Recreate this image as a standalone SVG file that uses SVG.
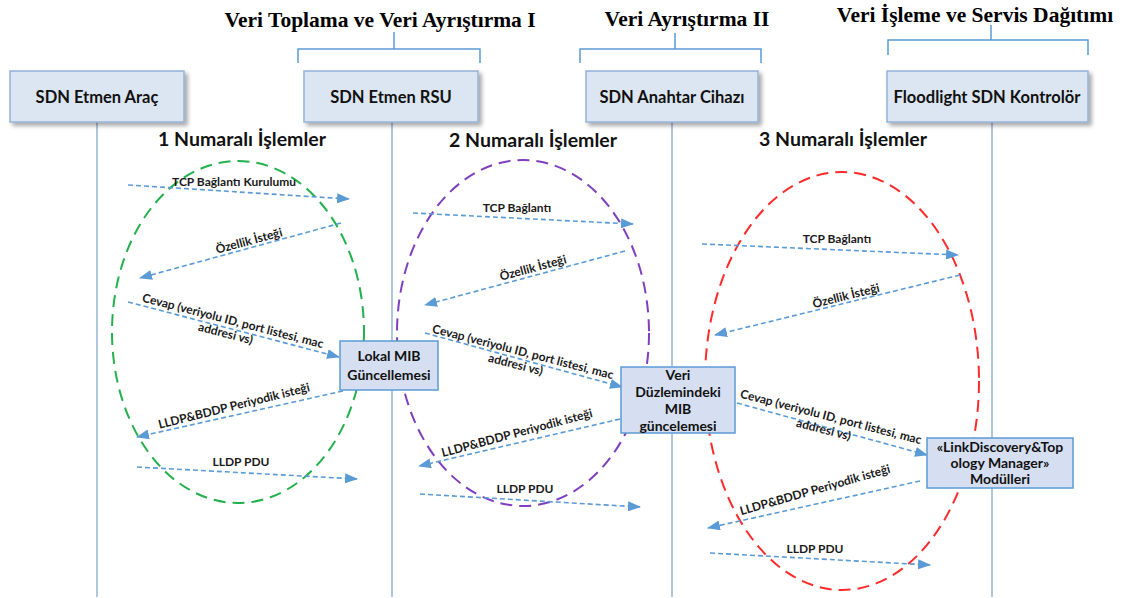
<svg xmlns="http://www.w3.org/2000/svg" width="1125" height="598" viewBox="0 0 1125 598">
  <style>
    .title { font-family: "Liberation Serif", "Times New Roman", serif; font-weight: bold; font-size: 21.5px; fill: #000; text-anchor: middle; }
    .bracket { fill: none; stroke: #5b9bd5; stroke-width: 1.5; }
    .actor { fill: #dce6f2; stroke: #95b3d7; stroke-width: 1.5; }
    .actor-text { font-family: Lato, "Open Sans", sans-serif; font-weight: bold; font-size: 16.5px; fill: #111; text-anchor: middle; }
    .lifeline { stroke: #95b3d7; stroke-width: 1.5; }
    .heading { font-family: Lato, "Open Sans", sans-serif; font-weight: bold; font-size: 19.5px; fill: #111; text-anchor: middle; }
    .proc { fill: #d6dff2; stroke: #5b9bd5; stroke-width: 1.5; }
    .proc-text { font-family: Lato, "Open Sans", sans-serif; font-weight: bold; font-size: 14px; fill: #111; text-anchor: middle; }
    .msg { stroke: #5b9bd5; stroke-width: 1.6; stroke-dasharray: 5 3; fill: none; marker-end: url(#head); }
    .lbl { font-family: Lato, "Open Sans", sans-serif; font-weight: bold; font-size: 12px; fill: #1a1a1a; text-anchor: middle; }
    .group { fill: none; stroke-width: 2; stroke-dasharray: 12 7; }
  </style>
  <defs>
    <marker id="head" markerUnits="userSpaceOnUse" markerWidth="13" markerHeight="10" refX="12" refY="5" orient="auto">
      <path d="M0,0 L13,5 L0,10 z" fill="#5b9bd5"/>
    </marker>
    <filter id="shadow" x="-10%" y="-20%" width="130%" height="150%">
      <feDropShadow dx="3" dy="3" stdDeviation="2" flood-color="#000" flood-opacity="0.35"/>
    </filter>
  </defs>

  <rect width="1125" height="598" fill="#fff"/>

  <!-- phase titles with brackets -->
  <g id="phase-1">
    <text class="title" x="380" y="27">Veri Toplama ve Veri Ayrıştırma I</text>
    <path class="bracket" d="M394,32 V49 M298,63 V49 H480 V63"/>
  </g>
  <g id="phase-2">
    <text class="title" x="687" y="26">Veri Ayrıştırma II</text>
    <path class="bracket" d="M675,33 V49 M580,63 V49 H761 V63"/>
  </g>
  <g id="phase-3">
    <text class="title" x="975" y="22">Veri İşleme ve Servis Dağıtımı</text>
    <path class="bracket" d="M991,25 V40 M888,55 V40 H1088 V55"/>
  </g>

  <!-- lifelines -->
  <g id="lifelines">
    <line class="lifeline" x1="97" y1="122" x2="97" y2="597"/>
    <line class="lifeline" x1="392" y1="122" x2="392" y2="597"/>
    <line class="lifeline" x1="672" y1="122" x2="672" y2="597"/>
    <line class="lifeline" x1="992" y1="122" x2="992" y2="597"/>
  </g>

  <!-- actors -->
  <g id="actor-arac">
    <rect class="actor" x="10" y="71" width="174" height="51" filter="url(#shadow)"/>
    <text class="actor-text" x="97" y="103">SDN Etmen Araç</text>
  </g>
  <g id="actor-rsu">
    <rect class="actor" x="304" y="71" width="174" height="51" filter="url(#shadow)"/>
    <text class="actor-text" x="391" y="103">SDN Etmen RSU</text>
  </g>
  <g id="actor-switch">
    <rect class="actor" x="586" y="71" width="172" height="51" filter="url(#shadow)"/>
    <text class="actor-text" x="672" y="103">SDN Anahtar Cihazı</text>
  </g>
  <g id="actor-controller">
    <rect class="actor" x="887" y="71" width="201" height="51" filter="url(#shadow)"/>
    <text class="actor-text" x="987" y="103">Floodlight SDN Kontrolör</text>
  </g>

  <!-- step group headings -->
  <g id="heading-1"><text class="heading" x="242" y="146">1 Numaralı İşlemler</text></g>
  <g id="heading-2"><text class="heading" x="533" y="147">2 Numaralı İşlemler</text></g>
  <g id="heading-3"><text class="heading" x="843" y="146">3 Numaralı İşlemler</text></g>

  <!-- dashed group outlines -->
  <g id="group-outlines">
    <ellipse class="group" cx="238" cy="332" rx="126" ry="171" stroke="#22b14c"/>
    <ellipse class="group" cx="523" cy="333" rx="126" ry="173" stroke="#7f3fbf"/>
    <ellipse class="group" cx="842" cy="381" rx="137" ry="209" stroke="#ff2a2a"/>
  </g>

  <!-- messages -->
  <g id="connectors">
    <line class="msg" x1="128" y1="185" x2="349" y2="199"/>
    <line class="msg" x1="341" y1="223" x2="140" y2="278"/>
    <line class="msg" x1="128" y1="302" x2="339" y2="357"/>
    <line class="msg" x1="343" y1="391" x2="137" y2="437"/>
    <line class="msg" x1="137" y1="467" x2="357" y2="479"/>

    <line class="msg" x1="413" y1="213" x2="633" y2="224"/>
    <line class="msg" x1="625" y1="251" x2="425" y2="305"/>
    <line class="msg" x1="425" y1="333" x2="622" y2="387"/>
    <line class="msg" x1="620" y1="419" x2="419" y2="466"/>
    <line class="msg" x1="420" y1="494" x2="640" y2="507"/>

    <line class="msg" x1="702" y1="244" x2="958" y2="255"/>
    <line class="msg" x1="960" y1="275" x2="715" y2="335"/>
    <line class="msg" x1="737" y1="403" x2="927" y2="455"/>
    <line class="msg" x1="920" y1="481" x2="708" y2="528"/>
    <line class="msg" x1="710" y1="553" x2="930" y2="565"/>
  </g>

  <!-- message labels -->
  <g id="labels-1">
    <text class="lbl" x="234" y="186">TCP Bağlantı Kurulumu</text>
    <text class="lbl" transform="translate(249,241) rotate(-15)" y="4">Özellik İsteği</text>
    <g transform="translate(233,321) rotate(14.5)">
      <text class="lbl" y="4">Cevap (veriyolu ID, port listesi, mac</text>
      <text class="lbl" x="-4" y="18">addresi vs)</text>
    </g>
    <text class="lbl" transform="translate(234,406) rotate(-14)" y="4">LLDP&amp;BDDP Periyodik isteği</text>
    <text class="lbl" x="241" y="466">LLDP PDU</text>
  </g>
  <g id="labels-2">
    <text class="lbl" x="517" y="212">TCP Bağlantı</text>
    <text class="lbl" transform="translate(533,268) rotate(-15)" y="4">Özellik İsteği</text>
    <g transform="translate(523,352) rotate(14.5)">
      <text class="lbl" y="4">Cevap (veriyolu ID, port listesi, mac</text>
      <text class="lbl" x="-4" y="18">addresi vs)</text>
    </g>
    <text class="lbl" transform="translate(517,433) rotate(-15)" y="4">LLDP&amp;BDDP Periyodik isteği</text>
    <text class="lbl" x="525" y="493">LLDP PDU</text>
  </g>
  <g id="labels-3">
    <text class="lbl" x="837" y="243">TCP Bağlantı</text>
    <text class="lbl" transform="translate(846,296) rotate(-14)" y="4">Özellik İsteği</text>
    <g transform="translate(831,417) rotate(14.5)">
      <text class="lbl" y="4">Cevap (veriyolu ID, port listesi, mac</text>
      <text class="lbl" x="-4" y="18">addresi vs)</text>
    </g>
    <text class="lbl" transform="translate(815,490) rotate(-16)" y="4">LLDP&amp;BDDP Periyodik isteği</text>
    <text class="lbl" x="815" y="553">LLDP PDU</text>
  </g>

  <!-- processing boxes -->
  <g id="proc-local-mib">
    <rect class="proc" x="340" y="341" width="98" height="49"/>
    <text class="proc-text" x="389" y="361">Lokal MIB</text>
    <text class="proc-text" x="389" y="380">Güncellemesi</text>
  </g>
  <g id="proc-data-plane-mib">
    <rect class="proc" x="621" y="367" width="114" height="66"/>
    <text class="proc-text" x="678" y="380">Veri</text>
    <text class="proc-text" x="678" y="397">Düzlemindeki</text>
    <text class="proc-text" x="678" y="414">MIB</text>
    <text class="proc-text" x="678" y="431">güncelemesi</text>
  </g>
  <g id="proc-modules">
    <rect class="proc" x="927" y="438" width="146" height="50"/>
    <text class="proc-text" x="1000" y="452">«LinkDiscovery&amp;Top</text>
    <text class="proc-text" x="1000" y="468">ology Manager»</text>
    <text class="proc-text" x="1000" y="484">Modülleri</text>
  </g>
</svg>
